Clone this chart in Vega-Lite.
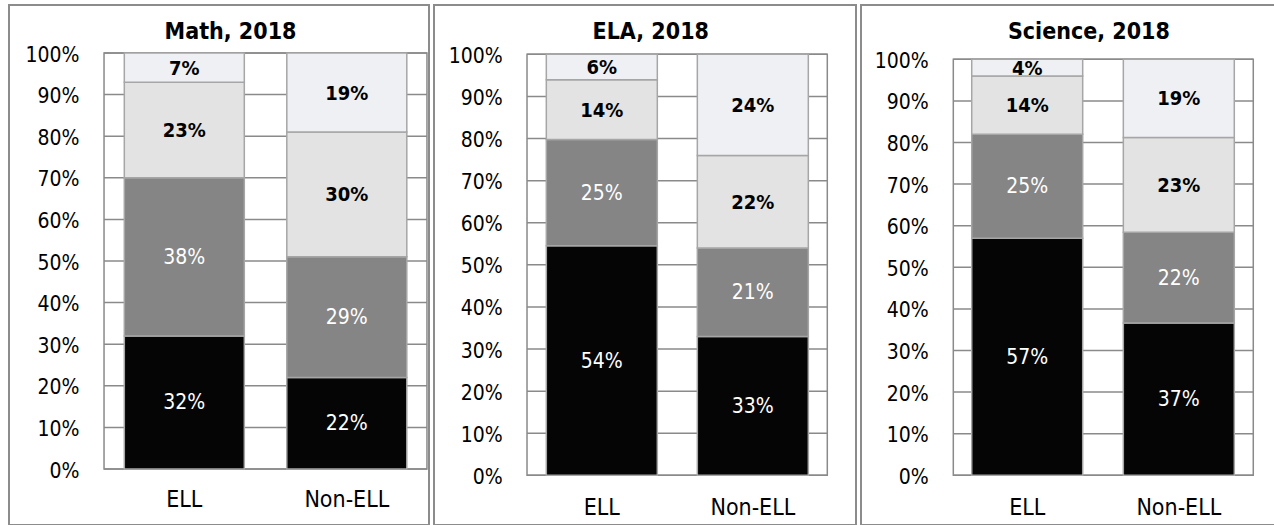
{
  "$schema": "https://vega.github.io/schema/vega-lite/v6.json",
  "padding": {"left": 8, "top": 4, "right": 0, "bottom": 0},
  "background": "white",
  "spacing": 3,
  "datasets": {
    "scores": [
      {"subject": "Math", "group": "ELL", "level": 1, "share": 0.32},
      {"subject": "Math", "group": "ELL", "level": 2, "share": 0.38},
      {"subject": "Math", "group": "ELL", "level": 3, "share": 0.23},
      {"subject": "Math", "group": "ELL", "level": 4, "share": 0.07},
      {"subject": "Math", "group": "Non-ELL", "level": 1, "share": 0.22},
      {"subject": "Math", "group": "Non-ELL", "level": 2, "share": 0.29},
      {"subject": "Math", "group": "Non-ELL", "level": 3, "share": 0.30},
      {"subject": "Math", "group": "Non-ELL", "level": 4, "share": 0.19},
      {"subject": "ELA", "group": "ELL", "level": 1, "share": 0.54},
      {"subject": "ELA", "group": "ELL", "level": 2, "share": 0.25},
      {"subject": "ELA", "group": "ELL", "level": 3, "share": 0.14},
      {"subject": "ELA", "group": "ELL", "level": 4, "share": 0.06},
      {"subject": "ELA", "group": "Non-ELL", "level": 1, "share": 0.33},
      {"subject": "ELA", "group": "Non-ELL", "level": 2, "share": 0.21},
      {"subject": "ELA", "group": "Non-ELL", "level": 3, "share": 0.22},
      {"subject": "ELA", "group": "Non-ELL", "level": 4, "share": 0.24},
      {"subject": "Science", "group": "ELL", "level": 1, "share": 0.57},
      {"subject": "Science", "group": "ELL", "level": 2, "share": 0.25},
      {"subject": "Science", "group": "ELL", "level": 3, "share": 0.14},
      {"subject": "Science", "group": "ELL", "level": 4, "share": 0.04},
      {"subject": "Science", "group": "Non-ELL", "level": 1, "share": 0.37},
      {"subject": "Science", "group": "Non-ELL", "level": 2, "share": 0.22},
      {"subject": "Science", "group": "Non-ELL", "level": 3, "share": 0.23},
      {"subject": "Science", "group": "Non-ELL", "level": 4, "share": 0.19}
    ],
    "grid": [
      {"g": 0}, {"g": 0.1}, {"g": 0.2}, {"g": 0.3}, {"g": 0.4}, {"g": 0.5},
      {"g": 0.6}, {"g": 0.7}, {"g": 0.8}, {"g": 0.9}, {"g": 1}
    ],
    "frame": [{"z": 1}]
  },
  "hconcat": [
    {
      "width": 420,
      "height": 520,
      "data": {"name": "scores"},
      "transform": [{"filter": "datum.subject === 'Math'"}],
      "layer": [
        {
          "data": {"name": "grid"},
          "mark": {"type": "rule", "color": "#8a8a8a", "strokeWidth": 1.5},
          "encoding": {
            "y": {"field": "g", "type": "quantitative", "title": null},
            "x": {"datum": "ELL", "type": "nominal", "bandPosition": -0.169},
            "x2": {"datum": "Non-ELL", "bandPosition": 1.168}
          }
        },
        {
          "data": {"name": "frame"},
          "mark": {"type": "rect", "filled": false, "stroke": "#8a8a8a", "strokeWidth": 1.5},
          "encoding": {
            "y": {"datum": 0, "type": "quantitative", "title": null},
            "y2": {"datum": 1},
            "x": {"datum": "ELL", "type": "nominal", "bandPosition": -0.169},
            "x2": {"datum": "Non-ELL", "bandPosition": 1.168}
          }
        },
        {
          "data": {"name": "frame"},
          "mark": {"type": "text", "fontSize": 23, "fontWeight": "bold", "baseline": "alphabetic", "align": "center", "color": "black"},
          "encoding": {
            "y": {"datum": 1.0337, "type": "quantitative", "title": null},
            "x": {"datum": "ELL", "type": "nominal", "bandPosition": 0.885},
            "text": {"value": "Math, 2018"}
          }
        },
        {
          "mark": {"type": "bar", "stroke": "#a6a6a6", "strokeWidth": 1.5},
          "encoding": {
            "x": {"field": "group", "type": "nominal", "title": null,
                  "scale": {"domain": ["ELL", "Non-ELL"], "paddingInner": 0.2615, "paddingOuter": 0.4231, "align": 0.8386},
                  "axis": {"title": null, "orient": "bottom", "offset": -56, "domain": false, "ticks": false, "labelAngle": 0, "labelAlign": "center", "labelBaseline": "top", "bandPosition": 0.5, "labelPadding": 19, "labelFontSize": 23, "labelColor": "black", "grid": false}},
            "y": {"field": "share", "type": "quantitative", "stack": "normalize", "title": null,
                  "scale": {"domain": [-0.1346, 1.1154], "nice": false, "zero": false},
                  "axis": {"title": null, "orient": "left", "offset": -95, "values": [0, 0.1, 0.2, 0.3, 0.4, 0.5, 0.6, 0.7, 0.8, 0.9, 1], "format": ".0%", "domain": false, "ticks": false, "grid": false, "labelPadding": 25, "labelFontSize": 21, "labelColor": "black", "labelOffset": 2}},
            "color": {"field": "level", "type": "ordinal", "legend": null,
                      "scale": {"domain": [1, 2, 3, 4], "range": ["#050505", "#858585", "#e3e3e3", "#eef0f4"]}},
            "order": {"field": "level", "type": "quantitative", "sort": "ascending"}
          }
        },
        {
          "transform": [
            {"stack": "share", "groupby": ["group"], "sort": [{"field": "level", "order": "ascending"}], "offset": "normalize", "as": ["y0", "y1"]},
            {"fold": ["y0", "y1"], "as": ["k", "v"]},
            {"aggregate": [{"op": "mean", "field": "v", "as": "mid"}], "groupby": ["group", "level", "share"]},
            {"filter": "datum.level <= 2"}
          ],
          "mark": {"type": "text", "color": "white", "fontSize": 21, "baseline": "middle", "align": "center", "dy": 1},
          "encoding": {
            "x": {"field": "group", "type": "nominal", "title": null},
            "y": {"field": "mid", "type": "quantitative", "title": null},
            "text": {"field": "share", "type": "quantitative", "format": ".0%"}
          }
        },
        {
          "transform": [
            {"stack": "share", "groupby": ["group"], "sort": [{"field": "level", "order": "ascending"}], "offset": "normalize", "as": ["y0", "y1"]},
            {"fold": ["y0", "y1"], "as": ["k", "v"]},
            {"aggregate": [{"op": "mean", "field": "v", "as": "mid"}], "groupby": ["group", "level", "share"]},
            {"filter": "datum.level >= 3"}
          ],
          "mark": {"type": "text", "color": "black", "fontSize": 20, "fontWeight": "bold", "baseline": "middle", "align": "center", "dy": 1},
          "encoding": {
            "x": {"field": "group", "type": "nominal", "title": null},
            "y": {"field": "mid", "type": "quantitative", "title": null},
            "text": {"field": "share", "type": "quantitative", "format": ".0%"}
          }
        }
      ]
    },
    {
      "width": 422,
      "height": 520,
      "data": {"name": "scores"},
      "transform": [{"filter": "datum.subject === 'ELA'"}],
      "layer": [
        {
          "data": {"name": "grid"},
          "mark": {"type": "rule", "color": "#8a8a8a", "strokeWidth": 1.5},
          "encoding": {
            "y": {"field": "g", "type": "quantitative", "title": null},
            "x": {"datum": "ELL", "type": "nominal", "bandPosition": -0.174},
            "x2": {"datum": "Non-ELL", "bandPosition": 1.171}
          }
        },
        {
          "data": {"name": "frame"},
          "mark": {"type": "rect", "filled": false, "stroke": "#8a8a8a", "strokeWidth": 1.5},
          "encoding": {
            "y": {"datum": 0, "type": "quantitative", "title": null},
            "y2": {"datum": 1},
            "x": {"datum": "ELL", "type": "nominal", "bandPosition": -0.174},
            "x2": {"datum": "Non-ELL", "bandPosition": 1.171}
          }
        },
        {
          "data": {"name": "frame"},
          "mark": {"type": "text", "fontSize": 23, "fontWeight": "bold", "baseline": "alphabetic", "align": "center", "color": "black"},
          "encoding": {
            "y": {"datum": 1.0357, "type": "quantitative", "title": null},
            "x": {"datum": "ELL", "type": "nominal", "bandPosition": 0.9405},
            "text": {"value": "ELA, 2018"}
          }
        },
        {
          "mark": {"type": "bar", "stroke": "#a6a6a6", "strokeWidth": 1.5},
          "encoding": {
            "x": {"field": "group", "type": "nominal", "title": null,
                  "scale": {"domain": ["ELL", "Non-ELL"], "paddingInner": 0.265, "paddingOuter": 0.5298, "align": 0.702},
                  "axis": {"title": null, "orient": "bottom", "offset": -49.7, "domain": false, "ticks": false, "labelAngle": 0, "labelAlign": "center", "labelBaseline": "top", "bandPosition": 0.5, "labelPadding": 21, "labelFontSize": 23, "labelColor": "black", "grid": false}},
            "y": {"field": "share", "type": "quantitative", "stack": "normalize", "title": null,
                  "scale": {"domain": [-0.118, 1.1172], "nice": false, "zero": false},
                  "axis": {"title": null, "orient": "left", "offset": -93, "values": [0, 0.1, 0.2, 0.3, 0.4, 0.5, 0.6, 0.7, 0.8, 0.9, 1], "format": ".0%", "domain": false, "ticks": false, "grid": false, "labelPadding": 24.7, "labelFontSize": 21, "labelColor": "black", "labelOffset": 2}},
            "color": {"field": "level", "type": "ordinal", "legend": null,
                      "scale": {"domain": [1, 2, 3, 4], "range": ["#050505", "#858585", "#e3e3e3", "#eef0f4"]}},
            "order": {"field": "level", "type": "quantitative", "sort": "ascending"}
          }
        },
        {
          "transform": [
            {"stack": "share", "groupby": ["group"], "sort": [{"field": "level", "order": "ascending"}], "offset": "normalize", "as": ["y0", "y1"]},
            {"fold": ["y0", "y1"], "as": ["k", "v"]},
            {"aggregate": [{"op": "mean", "field": "v", "as": "mid"}], "groupby": ["group", "level", "share"]},
            {"filter": "datum.level <= 2"}
          ],
          "mark": {"type": "text", "color": "white", "fontSize": 21, "baseline": "middle", "align": "center", "dy": 1},
          "encoding": {
            "x": {"field": "group", "type": "nominal", "title": null},
            "y": {"field": "mid", "type": "quantitative", "title": null},
            "text": {"field": "share", "type": "quantitative", "format": ".0%"}
          }
        },
        {
          "transform": [
            {"stack": "share", "groupby": ["group"], "sort": [{"field": "level", "order": "ascending"}], "offset": "normalize", "as": ["y0", "y1"]},
            {"fold": ["y0", "y1"], "as": ["k", "v"]},
            {"aggregate": [{"op": "mean", "field": "v", "as": "mid"}], "groupby": ["group", "level", "share"]},
            {"filter": "datum.level >= 3"}
          ],
          "mark": {"type": "text", "color": "black", "fontSize": 20, "fontWeight": "bold", "baseline": "middle", "align": "center", "dy": 1},
          "encoding": {
            "x": {"field": "group", "type": "nominal", "title": null},
            "y": {"field": "mid", "type": "quantitative", "title": null},
            "text": {"field": "share", "type": "quantitative", "format": ".0%"}
          }
        }
      ]
    },
    {
      "width": 418,
      "height": 520,
      "data": {"name": "scores"},
      "transform": [{"filter": "datum.subject === 'Science'"}],
      "layer": [
        {
          "data": {"name": "grid"},
          "mark": {"type": "rule", "color": "#8a8a8a", "strokeWidth": 1.5},
          "encoding": {
            "y": {"field": "g", "type": "quantitative", "title": null},
            "x": {"datum": "ELL", "type": "nominal", "bandPosition": -0.166},
            "x2": {"datum": "Non-ELL", "bandPosition": 1.171}
          }
        },
        {
          "data": {"name": "frame"},
          "mark": {"type": "rect", "filled": false, "stroke": "#8a8a8a", "strokeWidth": 1.5},
          "encoding": {
            "y": {"datum": 0, "type": "quantitative", "title": null},
            "y2": {"datum": 1},
            "x": {"datum": "ELL", "type": "nominal", "bandPosition": -0.166},
            "x2": {"datum": "Non-ELL", "bandPosition": 1.171}
          }
        },
        {
          "data": {"name": "frame"},
          "mark": {"type": "text", "fontSize": 23, "fontWeight": "bold", "baseline": "alphabetic", "align": "center", "color": "black"},
          "encoding": {
            "y": {"datum": 1.048, "type": "quantitative", "title": null},
            "x": {"datum": "ELL", "type": "nominal", "bandPosition": 1.056},
            "text": {"value": "Science, 2018"}
          }
        },
        {
          "mark": {"type": "bar", "stroke": "#a6a6a6", "strokeWidth": 1.5},
          "encoding": {
            "x": {"field": "group", "type": "nominal", "title": null,
                  "scale": {"domain": ["ELL", "Non-ELL"], "paddingInner": 0.268, "paddingOuter": 0.5126, "align": 0.7124},
                  "axis": {"title": null, "orient": "bottom", "offset": -49.7, "domain": false, "ticks": false, "labelAngle": 0, "labelAlign": "center", "labelBaseline": "top", "bandPosition": 0.5, "labelPadding": 21, "labelFontSize": 23, "labelColor": "black", "grid": false}},
            "y": {"field": "share", "type": "quantitative", "stack": "normalize", "title": null,
                  "scale": {"domain": [-0.1195, 1.1305], "nice": false, "zero": false},
                  "axis": {"title": null, "orient": "left", "offset": -92.3, "values": [0, 0.1, 0.2, 0.3, 0.4, 0.5, 0.6, 0.7, 0.8, 0.9, 1], "format": ".0%", "domain": false, "ticks": false, "grid": false, "labelPadding": 25, "labelFontSize": 21, "labelColor": "black", "labelOffset": 2}},
            "color": {"field": "level", "type": "ordinal", "legend": null,
                      "scale": {"domain": [1, 2, 3, 4], "range": ["#050505", "#858585", "#e3e3e3", "#eef0f4"]}},
            "order": {"field": "level", "type": "quantitative", "sort": "ascending"}
          }
        },
        {
          "transform": [
            {"stack": "share", "groupby": ["group"], "sort": [{"field": "level", "order": "ascending"}], "offset": "normalize", "as": ["y0", "y1"]},
            {"fold": ["y0", "y1"], "as": ["k", "v"]},
            {"aggregate": [{"op": "mean", "field": "v", "as": "mid"}], "groupby": ["group", "level", "share"]},
            {"filter": "datum.level <= 2"}
          ],
          "mark": {"type": "text", "color": "white", "fontSize": 21, "baseline": "middle", "align": "center", "dy": 1},
          "encoding": {
            "x": {"field": "group", "type": "nominal", "title": null},
            "y": {"field": "mid", "type": "quantitative", "title": null},
            "text": {"field": "share", "type": "quantitative", "format": ".0%"}
          }
        },
        {
          "transform": [
            {"stack": "share", "groupby": ["group"], "sort": [{"field": "level", "order": "ascending"}], "offset": "normalize", "as": ["y0", "y1"]},
            {"fold": ["y0", "y1"], "as": ["k", "v"]},
            {"aggregate": [{"op": "mean", "field": "v", "as": "mid"}], "groupby": ["group", "level", "share"]},
            {"filter": "datum.level >= 3"}
          ],
          "mark": {"type": "text", "color": "black", "fontSize": 20, "fontWeight": "bold", "baseline": "middle", "align": "center", "dy": 1},
          "encoding": {
            "x": {"field": "group", "type": "nominal", "title": null},
            "y": {"field": "mid", "type": "quantitative", "title": null},
            "text": {"field": "share", "type": "quantitative", "format": ".0%"}
          }
        }
      ]
    }
  ],
  "config": {
    "font": "DejaVu Sans Condensed, DejaVu Sans, sans-serif",
    "view": {"stroke": "#8c8c8c", "strokeWidth": 2},
    "axis": {"labelFont": "DejaVu Sans Condensed, DejaVu Sans, sans-serif"},
    "text": {"font": "DejaVu Sans Condensed, DejaVu Sans, sans-serif"}
  }
}
